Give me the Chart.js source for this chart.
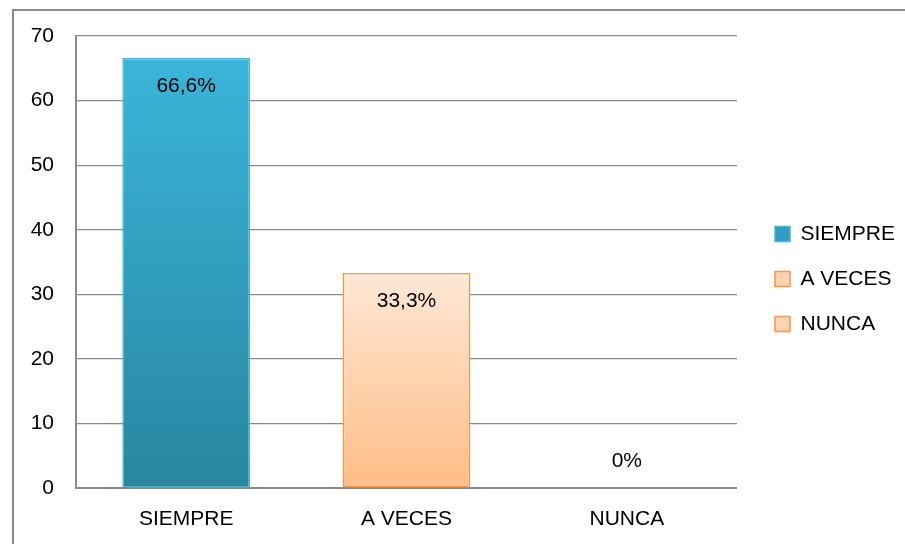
<!DOCTYPE html>
<html>
<head>
<meta charset="utf-8">
<script src="https://cdn.jsdelivr.net/npm/chart.js@4.4.0/dist/chart.umd.min.js"></script>
<style>
  body { margin: 0; background: #fff; }
  #frame { position: absolute; left: 0; top: 0; width: 905px; height: 544px; overflow: hidden; }
  #border { position: absolute; left: 12px; top: 9px; width: 1000px; height: 600px; border: 2px solid #8a8a8a; box-sizing: border-box; }
  canvas { position: absolute; left: 0; top: 0; }
</style>
</head>
<body>
<div id="frame">
  <div id="border"></div>
  <canvas id="chartCanvas" width="905" height="544"></canvas>
</div>
<script>
// datos del grafico
var categories = ['SIEMPRE', 'A VECES', 'NUNCA'];
var values = [66.6, 33.3, 0];
var yTicks = [0, 10, 20, 30, 40, 50, 60, 70];

var FONT = "'Liberation Sans Narrow', 'Arial Narrow', 'Liberation Sans', Arial, sans-serif";
var FSIZE = 21;

var gradStops = [
    ['#3AB5DA', '#2886A0'],   // SIEMPRE
    ['#FFE8D6', '#FFBD86'],   // A VECES
    ['#FFE8D6', '#FFBD86']    // NUNCA
];
var borderColors = ['#4FB3CF', '#F79646', '#F79646'];
var legendFill = ['#2F9EC0', '#FDD3B5', '#FDD3B5'];

var ctx = document.getElementById('chartCanvas');

function barGradient(context) {
    var chart = context.chart;
    var area = chart.chartArea;
    if (!area) return gradStops[context.dataIndex][1];
    var yScale = chart.scales.y;
    var top = yScale.getPixelForValue(values[context.dataIndex]);
    var bottom = yScale.getPixelForValue(0);
    if (bottom - top < 1) top = bottom - 1;
    var g = chart.ctx.createLinearGradient(0, top, 0, bottom);
    g.addColorStop(0, gradStops[context.dataIndex][0]);
    g.addColorStop(1, gradStops[context.dataIndex][1]);
    return g;
}

// etiquetas de datos dentro de la barra
var dataLabels = {
    id: 'dataLabels',
    afterDatasetsDraw: function(chart) {
        var c = chart.ctx;
        var meta = chart.getDatasetMeta(0);
        c.save();
        c.font = FSIZE + 'px ' + FONT;
        c.fillStyle = '#000';
        c.textAlign = 'center';
        c.textBaseline = 'middle';
        meta.data.forEach(function(bar, i) {
            var v = values[i];
            var txt = String(v).replace('.', ',') + '%';
            var y = v > 0 ? bar.y + 28 : bar.y - 27;
            c.fillText(txt, bar.x, y);
        });
        c.restore();
    }
};

// mover la leyenda un poco a la derecha y arriba
var legendShift = {
    id: 'legendShift',
    afterLayout: function(chart) {
        var lg = chart.legend;
        var dx = 775 - 24 - lg.left;
        lg.left += dx;
        lg.right += dx;
        lg.top -= 11;
        lg.bottom -= 11;
    }
};

var myChart = new Chart(ctx, {
    type: 'bar',
    data: {
        labels: categories,
        datasets: [{
            data: values,
            backgroundColor: barGradient,
            borderColor: borderColors,
            borderWidth: 1.5,
            borderSkipped: false,
            categoryPercentage: 1,
            barPercentage: 0.58
        }]
    },
    options: {
        responsive: false,
        animation: false,
        layout: {
            padding: { left: 0, top: 36, right: 14, bottom: 0 }
        },
        scales: {
            x: {
                grid: { display: false, drawTicks: false },
                border: { display: true, color: '#8a8a8a', width: 2 },
                ticks: { color: '#000', font: { family: FONT, size: FSIZE }, padding: 19 },
                afterFit: function(scale) { scale.height = 544 - 488; }
            },
            y: {
                min: 0,
                max: 70,
                afterBuildTicks: function(scale) {
                    scale.ticks = yTicks.map(function(v) { return { value: v }; });
                },
                grid: { color: '#8a8a8a', lineWidth: 1.2, drawTicks: false },
                border: { display: true, color: '#8a8a8a', width: 2 },
                ticks: { color: '#000', font: { family: FONT, size: FSIZE }, padding: 22 },
                afterFit: function(scale) { scale.width = 76; }
            }
        },
        plugins: {
            tooltip: { enabled: false },
            legend: {
                display: true,
                position: 'right',
                labels: {
                    color: '#000',
                    font: { family: FONT, size: FSIZE },
                    boxWidth: 15,
                    boxHeight: 15,
                    padding: 24,
                    generateLabels: function() {
                        return categories.map(function(name, i) {
                            return {
                                text: name,
                                fillStyle: legendFill[i],
                                strokeStyle: borderColors[i],
                                lineWidth: 1.5,
                                hidden: false,
                                index: i
                            };
                        });
                    }
                }
            }
        }
    },
    plugins: [dataLabels, legendShift]
});
</script>
</body>
</html>
